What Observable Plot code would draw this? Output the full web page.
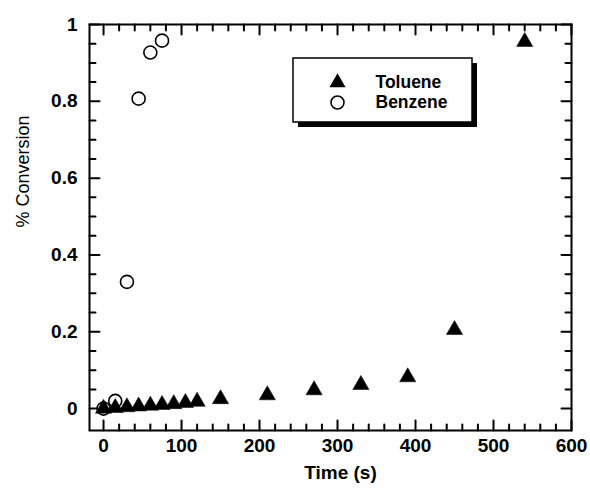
<!DOCTYPE html>
<html>
<head>
<meta charset="utf-8">
<script src="https://cdn.jsdelivr.net/npm/d3@7"></script>
<script src="https://cdn.jsdelivr.net/npm/@observablehq/plot@0.6"></script>
<style>
  html, body { margin: 0; padding: 0; background: #fff; }
  #chart svg { display: block; }
</style>
</head>
<body>
<div id="chart"></div>
<script>
// ---- data ----
const tolueneTime = [0, 15, 30, 45, 60, 75, 90, 105, 120, 150, 210, 270, 330, 390, 450, 540];
const tolueneConv = [0, 0.002, 0.004, 0.006, 0.008, 0.010, 0.012, 0.015, 0.018, 0.025, 0.035, 0.048, 0.062, 0.082, 0.205, 0.955];
const benzeneTime = [0, 15, 30, 45, 60, 75];
const benzeneConv = [0, 0.02, 0.33, 0.807, 0.927, 0.958];
const xTicks = [0, 100, 200, 300, 400, 500, 600];
const yTicks = [0, 0.2, 0.4, 0.6, 0.8, 1];
const legendNames = ["Toluene", "Benzene"];

const toluene = tolueneTime.map((t, i) => ({t, c: tolueneConv[i]}));
const benzene = benzeneTime.map((t, i) => ({t, c: benzeneConv[i]}));

const xDomain = [-18, 600];
const yDomain = [-0.057, 1];
const W = 590, H = 489;
const mL = 89, mR = 19, mT = 24, mB = 59;

// pixel -> data helpers for placing the in-plot legend
const px2x = px => xDomain[0] + (px - mL) * (xDomain[1] - xDomain[0]) / (W - mL - mR);
const py2y = py => yDomain[1] - (py - mT) * (yDomain[1] - yDomain[0]) / (H - mT - mB);

const xMinor = d3.range(0, 601, 20).filter(v => v % 100 !== 0);
const yMinor = d3.range(0, 21).map(i => +(i * 0.05).toFixed(2)).filter(v => Math.round(v * 100) % 20 !== 0);
const FONT = "'Liberation Sans', Arial, Helvetica, sans-serif";
const MAJ = 10, MIN = 6, TW = 2;
const tickShape = {draw(context, l) { context.moveTo(0, 0); context.lineTo(0, -l); }};

function ticksMarks(vals, len) {
  return [
    Plot.vector(vals, {x: d => d, y: yDomain[0], length: len, rotate: 0, anchor: "start", shape: tickShape, stroke: "black", strokeWidth: TW}),
    Plot.vector(vals, {x: d => d, y: yDomain[1], length: len, rotate: 180, anchor: "start", shape: tickShape, stroke: "black", strokeWidth: TW})
  ];
}
function yTicksMarks(vals, len) {
  return [
    Plot.vector(vals, {y: d => d, x: xDomain[0], length: len, rotate: 90, anchor: "start", shape: tickShape, stroke: "black", strokeWidth: TW}),
    Plot.vector(vals, {y: d => d, x: xDomain[1], length: len, rotate: 270, anchor: "start", shape: tickShape, stroke: "black", strokeWidth: TW})
  ];
}

const legendBox = [{x1: px2x(293), x2: px2x(472), y1: py2y(122), y2: py2y(58)}];
const legendRows = [
  {name: legendNames[0], y: py2y(82), sym: "triangle"},
  {name: legendNames[1], y: py2y(102), sym: "circle"}
];

const chart = Plot.plot({
  width: W,
  height: H,
  marginLeft: mL, marginRight: mR, marginTop: mT, marginBottom: mB,
  style: {fontFamily: FONT, background: "white", color: "black"},
  x: {domain: xDomain, axis: null},
  y: {domain: yDomain, axis: null},
  marks: [
    // ticks
    ...ticksMarks(xTicks, MAJ),
    ...ticksMarks(xMinor, MIN),
    ...yTicksMarks(yTicks, MAJ),
    ...yTicksMarks(yMinor, MIN),
    // tick labels
    Plot.text(xTicks, {x: d => d, frameAnchor: "bottom", dy: 15, lineAnchor: "middle", text: d => String(d), fontSize: 19, fontWeight: "bold", fill: "black"}),
    Plot.text(yTicks, {y: d => d, frameAnchor: "left", dx: -12, textAnchor: "end", text: d => String(d), fontSize: 19, fontWeight: "bold", fill: "black"}),
    // axis titles
    Plot.text(["Time (s)"], {frameAnchor: "bottom", dx: 10, dy: 42, lineAnchor: "middle", fontSize: 19, fontWeight: "bold", fill: "black"}),
    Plot.text(["% Conversion"], {frameAnchor: "left", dx: -66, rotate: -90, lineAnchor: "middle", fontSize: 18, fill: "black"}),
    // data
    Plot.dot(benzene, {x: "t", y: "c", r: 6.5, symbol: "circle", fill: "white", stroke: "black", strokeWidth: 1.6}),
    Plot.dot(toluene, {x: "t", y: "c", r: 6, symbol: "triangle", fill: "black", stroke: "black", strokeWidth: 0.5}),
    // legend
    Plot.rect(legendBox, {x1: "x1", x2: "x2", y1: "y1", y2: "y2", fill: "black", dx: 5, dy: 5}),
    Plot.rect(legendBox, {x1: "x1", x2: "x2", y1: "y1", y2: "y2", fill: "white", stroke: "black", strokeWidth: 1.5}),
    Plot.dot(legendRows.filter(d => d.sym === "triangle"), {x: px2x(337), y: "y", r: 6, symbol: "triangle", fill: "black"}),
    Plot.dot(legendRows.filter(d => d.sym === "circle"), {x: px2x(337), y: "y", r: 6.5, symbol: "circle", fill: "white", stroke: "black", strokeWidth: 1.6}),
    Plot.text(legendRows, {x: px2x(375), y: "y", text: "name", textAnchor: "start", lineAnchor: "middle", fontSize: 17.5, fontWeight: "bold", fill: "black"}),
    // frame
    Plot.frame({stroke: "black", strokeWidth: 2})
  ]
});
document.getElementById("chart").appendChild(chart);
</script>
</body>
</html>
